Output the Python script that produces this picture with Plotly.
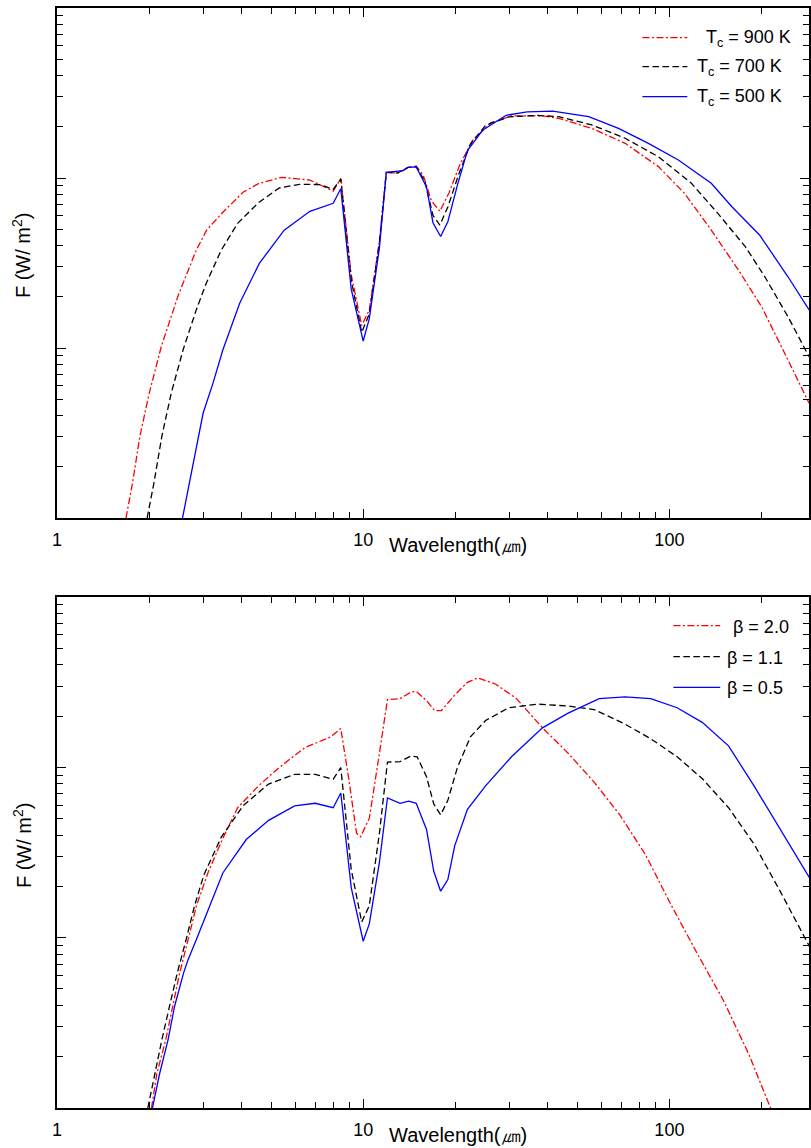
import plotly.graph_objects as go

# ---------------- Data (flux stored as log10 F, arbitrary units) ----------------
# Top panel: Tc series
lam_tc900 = [1.68, 1.764, 1.864, 2.0, 2.19, 2.48, 2.85, 3.08, 3.46, 4.05, 4.55, 5.41, 6.70, 7.98, 8.45,
             9.14, 9.89, 10.47, 11.3, 11.9, 12.97, 14.0, 14.9, 15.7, 16.7, 17.8, 19.1, 20.7, 22.8,
             26.1, 30.5, 38.5, 43.5, 55.8, 71.7, 92.1, 112, 137, 168, 200, 238, 286]
logF_tc900 = [-3.0, -2.796, -2.522, -2.267, -1.992, -1.698, -1.424, -1.307, -1.206, -1.084, -1.033,
              -0.996, -1.012, -1.077, -1.002, -1.57, -1.868, -1.776, -1.369, -0.967, -0.971, -0.94,
              -0.93, -0.982, -1.134, -1.196, -1.084, -0.92, -0.778, -0.676, -0.635, -0.635, -0.649,
              -0.708, -0.796, -0.933, -1.09, -1.306, -1.541, -1.757, -2.031, -2.325]

lam_tc700 = [1.97, 2.07, 2.20, 2.36, 2.58, 2.85, 3.07, 3.44, 3.89, 4.55, 5.31, 6.2, 7.25, 7.98, 8.45,
             9.14, 9.89, 10.47, 11.3, 11.9, 12.97, 14.0, 14.9, 15.9, 16.9, 17.8, 18.9, 20.5, 22.4,
             25.1, 29.9, 37.0, 43.5, 55.8, 71.7, 92.1, 118, 144, 177, 205, 244, 286]
logF_tc700 = [-3.0, -2.80, -2.52, -2.267, -2.012, -1.776, -1.62, -1.424, -1.267, -1.145, -1.059,
              -1.037, -1.039, -1.067, -1.006, -1.6, -1.908, -1.8, -1.38, -0.967, -0.97, -0.938,
              -0.932, -1.02, -1.22, -1.277, -1.17, -0.98, -0.8, -0.69, -0.64, -0.632, -0.639,
              -0.688, -0.766, -0.875, -1.031, -1.208, -1.404, -1.581, -1.816, -2.051]

lam_tc500 = [2.57, 2.84, 3.0, 3.23, 3.48, 3.95, 4.58, 5.52, 6.70, 7.98, 8.45, 9.14, 10.0, 10.47, 11.3,
             11.9, 13.5, 14.0, 14.9, 16.1, 16.9, 17.9, 18.9, 20.3, 21.9, 24.6, 29.3, 34.3, 41.6,
             54.5, 68.2, 85.4, 107, 137, 160, 197, 244, 286]
logF_tc500 = [-3.0, -2.6, -2.384, -2.208, -2.012, -1.737, -1.502, -1.307, -1.196, -1.149, -1.063,
              -1.654, -1.959, -1.827, -1.409, -0.967, -0.957, -0.937, -0.935, -1.053, -1.263,
              -1.344, -1.257, -1.043, -0.839, -0.717, -0.631, -0.611, -0.607, -0.639, -0.708,
              -0.796, -0.894, -1.031, -1.169, -1.335, -1.581, -1.776]

# Bottom panel: beta series
lam_b20 = [2.035, 2.12, 2.265, 2.38, 2.515, 2.68, 2.85, 3.11, 3.465, 3.89, 4.55, 5.31, 6.44, 7.83,
           8.45, 8.97, 9.51, 9.81, 10.47, 11.3, 12.0, 13.2, 14.3, 14.9, 16.1, 17.1, 18.0, 19.9,
           21.9, 23.7, 27.1, 31.7, 38.5, 46.7, 56.8, 68.9, 83.6, 101.6, 123, 150, 182, 214]
logF_b20 = [-3.0, -2.796, -2.6, -2.404, -2.208, -2.012, -1.816, -1.62, -1.424, -1.237, -1.109,
            -1.002, -0.885, -0.821, -0.772, -1.066, -1.386, -1.407, -1.3, -0.917, -0.603, -0.597,
            -0.559, -0.554, -0.608, -0.667, -0.667, -0.576, -0.501, -0.475, -0.512, -0.597,
            -0.768, -0.917, -1.087, -1.279, -1.514, -1.812, -2.09, -2.367, -2.687, -3.0]

lam_b11 = [1.98, 2.085, 2.2, 2.33, 2.47, 2.64, 2.81, 3.02, 3.44, 4.05, 4.91, 5.97, 6.97, 7.98, 8.45,
           9.14, 9.89, 10.47, 11.3, 12.0, 13.2, 14.3, 15.0, 16.1, 17.0, 17.9, 18.9, 20.3, 22.4,
           25.1, 29.9, 37.0, 46.7, 56.8, 71.6, 86.9, 106, 128, 156, 189, 230, 290]
logF_b11 = [-3.0, -2.796, -2.6, -2.404, -2.208, -2.012, -1.816, -1.63, -1.41, -1.226, -1.098,
            -1.041, -1.041, -1.07, -1.002, -1.6, -1.908, -1.812, -1.386, -0.97, -0.966, -0.934,
            -0.938, -1.055, -1.215, -1.279, -1.194, -1.002, -0.821, -0.725, -0.65, -0.629, -0.64,
            -0.661, -0.746, -0.832, -0.938, -1.066, -1.237, -1.45, -1.727, -2.068]

lam_b05 = [2.05, 2.165, 2.305, 2.42, 2.59, 2.68, 2.85, 3.15, 3.48, 4.15, 4.91, 5.97, 6.97, 7.98, 8.45,
           9.14, 10.0, 10.47, 11.3, 12.0, 13.2, 14.1, 14.9, 16.1, 17.0, 17.9, 18.9, 19.9, 21.9,
           25.1, 30.5, 38.5, 46.7, 59.0, 71.6, 86.9, 106, 128, 156, 189, 230, 290]
logF_b05 = [-3.0, -2.796, -2.6, -2.404, -2.208, -2.129, -2.012, -1.816, -1.62, -1.424, -1.311,
            -1.226, -1.211, -1.237, -1.151, -1.706, -2.021, -1.919, -1.557, -1.179, -1.211,
            -1.198, -1.211, -1.365, -1.61, -1.727, -1.659, -1.461, -1.247, -1.109, -0.938,
            -0.768, -0.682, -0.597, -0.586, -0.597, -0.65, -0.736, -0.874, -1.109, -1.365, -1.663]

x_tickvals = [1, 10, 100]
x_ticktext = ["1", "10", "100"]

top_names = ["T<sub>c</sub> = 900 K", "T<sub>c</sub> = 700 K", "T<sub>c</sub> = 500 K"]
bot_names = ["\u03b2 = 2.0", "\u03b2 = 1.1", "\u03b2 = 0.5"]

# ---------------- Styling ----------------
FONT = "Arial, 'Liberation Sans', sans-serif"
RED, BLACK, BLUE = "#ff0000", "#000000", "#0000ff"
DASHDOT = "7px,2.5px,2px,2.5px"
DASH = "6.5px,3.5px"
LW = 1.3


def F(vals):
    return [10 ** v for v in vals]


fig = go.Figure()

top = [(lam_tc900, logF_tc900, RED, DASHDOT), (lam_tc700, logF_tc700, BLACK, DASH),
       (lam_tc500, logF_tc500, BLUE, "solid")]
bot = [(lam_b20, logF_b20, RED, DASHDOT), (lam_b11, logF_b11, BLACK, DASH),
       (lam_b05, logF_b05, BLUE, "solid")]
for (lam, lf, col, dash), name in zip(top, top_names):
    fig.add_trace(go.Scatter(x=lam, y=F(lf), mode="lines", name=name, showlegend=False,
                             line=dict(color=col, width=LW, dash=dash), xaxis="x", yaxis="y"))
for (lam, lf, col, dash), name in zip(bot, bot_names):
    fig.add_trace(go.Scatter(x=lam, y=F(lf), mode="lines", name=name, showlegend=False,
                             line=dict(color=col, width=LW, dash=dash), xaxis="x2", yaxis="y2"))

# the page body margin is removed (post_script), so the figure fills the 811x1148 window
W, H = 811, 1148
PL, PR, PT, PB = 57, 811, 8, 1108          # plot area in page pixels
ML, MT = PL, PT
MB = H - PB
PH = PB - PT
PW = PR - PL


def py(pix):  # page pixel row -> paper y
    return (PB - pix) / PH


def px(pix):  # page pixel column -> paper x
    return (pix - PL) / PW


xaxis_common = dict(
    type="log", range=[0, 2.456], tickvals=x_tickvals, ticktext=x_ticktext,
    ticks="inside", ticklen=9, tickwidth=1.3, tickcolor="black",
    minor=dict(ticks="inside", ticklen=6, tickwidth=1.3, tickcolor="black", dtick="D1", showgrid=False),
    showline=True, linecolor="black", linewidth=1.8, mirror="ticks",
    showgrid=False, zeroline=False,
    tickfont=dict(family=FONT, size=18, color="black"), ticklabelstandoff=4,
)
yaxis_common = dict(
    type="log", range=[-3, 0], dtick=1,
    ticks="inside", ticklen=9, tickwidth=1.3, tickcolor="black",
    minor=dict(ticks="inside", ticklen=6, tickwidth=1.3, tickcolor="black", dtick="D1", showgrid=False),
    showline=True, linecolor="black", linewidth=1.8, mirror="ticks",
    showgrid=False, zeroline=False, showticklabels=False,
)

fig.update_layout(
    width=W, height=H, autosize=False,
    margin=dict(l=ML, r=0, t=MT, b=MB, pad=0),
    paper_bgcolor="white", plot_bgcolor="white",
    showlegend=False,
    xaxis=dict(domain=[0, 1], anchor="y", **xaxis_common),
    yaxis=dict(domain=[py(518), 1.0], anchor="x", **yaxis_common),
    xaxis2=dict(domain=[0, 1], anchor="y2", **xaxis_common),
    yaxis2=dict(domain=[0.0, py(597)], anchor="x2", **yaxis_common),
)

# axis titles
for ycen, xlab_y in [(255, 545), (845, 1135)]:
    fig.add_annotation(text="F (W/ m<sup>2</sup>)", xref="paper", yref="paper",
                       x=px(22), y=py(ycen), showarrow=False, textangle=-90,
                       xanchor="center", yanchor="middle",
                       font=dict(family=FONT, size=20, color="black"))
    fig.add_annotation(text="Wavelength(\u339b)", xref="paper", yref="paper",
                       x=px(459), y=py(xlab_y), showarrow=False,
                       xanchor="center", yanchor="middle",
                       font=dict(family=FONT, size=20, color="black"))

# legends (key samples + labels)
legend_specs = [
    (top, top_names, (644, 689), [37.7, 66.7, 96.7], [706, 697, 697]),
    (bot, bot_names, (675, 722), [625.7, 656.7, 687.3], [733, 727, 727]),
]
for series, names, (lx0, lx1), rows, txs in legend_specs:
    for (lam, lf, col, dash), name, yy, tx in zip(series, names, rows, txs):
        fig.add_shape(type="line", xref="paper", yref="paper",
                      x0=px(lx0), x1=px(lx1), y0=py(yy), y1=py(yy),
                      line=dict(color=col, width=LW, dash=dash))
        fig.add_annotation(text=name, xref="paper", yref="paper", x=px(tx), y=py(yy + 1),
                           showarrow=False, xanchor="left", yanchor="middle",
                           font=dict(family=FONT, size=18, color="black"))

fig.write_html(
    "out.html",
    config={"displayModeBar": False},
    post_script="document.body.style.margin='0';document.body.style.overflow='hidden';",
)
